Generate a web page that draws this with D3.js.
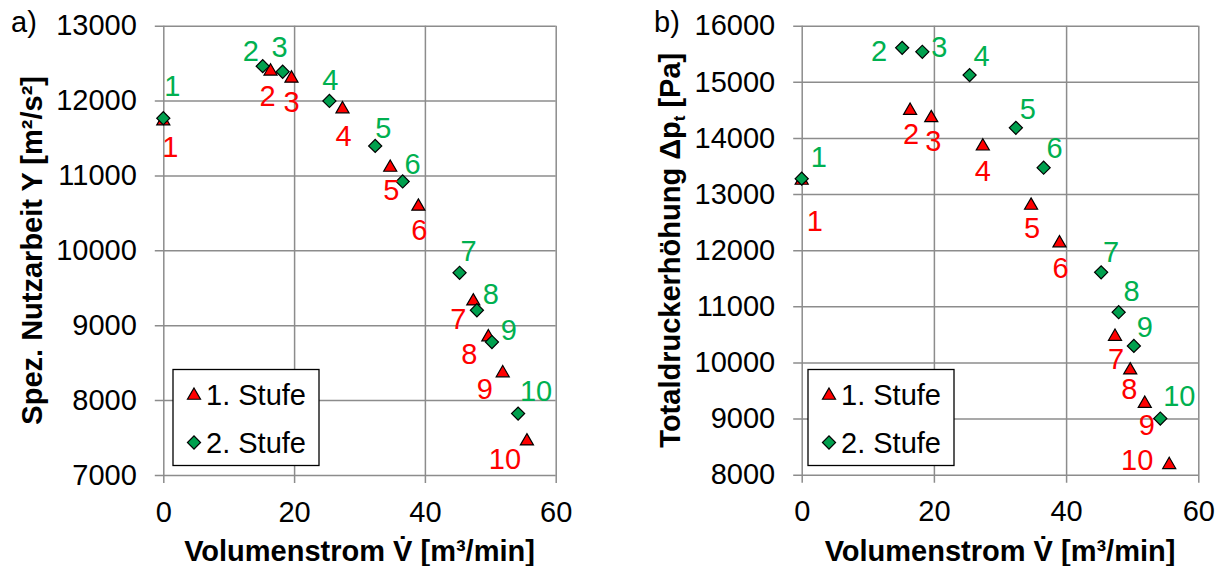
<!DOCTYPE html>
<html>
<head>
<meta charset="utf-8">
<script src="https://cdn.jsdelivr.net/npm/d3@7"></script>
<style>
  body { margin: 0; background: #fff; }
  svg { display: block; }
  svg text { font-family: "Liberation Sans", Arial, sans-serif; }
</style>
</head>
<body>
<svg id="chart" width="1222" height="566"></svg>
<script>
// Messpunkte (gleiche Volumenströme für beide Diagramme)
const pointLabels = ["1", "2", "3", "4", "5", "6", "7", "8", "9", "10"];
const volStufe1 = [0, 16.4, 19.6, 27.4, 34.7, 39.0, 47.4, 49.7, 51.9, 55.6];
const volStufe2 = [0, 15.2, 18.25, 25.4, 32.4, 36.6, 45.3, 47.95, 50.25, 54.25];

const nutzStufe1 = [11740, 12405, 12310, 11900, 11120, 10600, 9335, 8855, 8375, 7465];
const nutzStufe2 = [11765, 12460, 12385, 11995, 11395, 10920, 9700, 9200, 8775, 7820];

const druckStufe1 = [13260, 14505, 14375, 13870, 12815, 12145, 10480, 9880, 9285, 8195];
const druckStufe2 = [13275, 15605, 15535, 15120, 14180, 13470, 11605, 10895, 10295, 9000];

const xTicks = [0, 20, 40, 60];
const nutzTicks = [7000, 8000, 9000, 10000, 11000, 12000, 13000];
const druckTicks = [8000, 9000, 10000, 11000, 12000, 13000, 14000, 15000, 16000];
const seriesNames = ["1. Stufe", "2. Stufe"];

// Beschriftungs-Versatz in px (nur Layout)
const offA1 = [[7, 27], [-3, 25], [0, 24], [1, 27], [1, 23], [1, 24], [-15, 18], [-19, 17], [-18, 17], [-22, 18]];
const offA2 = [[9, -33], [-12, -16], [-3, -25], [1, -21], [8, -18], [10, -18], [9, -22], [14, -17], [17, -13], [18, -23]];
const offB1 = [[13, 41], [1, 24], [2, 24], [0, 25], [1, 23], [1, 25], [1, 23], [-1, 19], [2, 22], [-32, -4]];
const offB2 = [[17, -22], [-23, 3], [17, -5], [12, -20], [12, -19], [11, -20], [10, -21], [13, -22], [11, -19], [19, -23]];

const red = "#ff0000", redText = "#ff0000";
const green = "#00a04e", greenText = "#00b050";
const grid = "#8c8c8c";
const fs = 29;
const font = "Liberation Sans, Arial, sans-serif";

const svg = d3.select("#chart");

const tri = d3.symbol().type(d3.symbolTriangle).size(74);
const dia = d3.symbol().type(d3.symbolSquare).size(86);

function styleAxis(a) {
  a.attr("font-family", font).attr("font-size", fs);
  a.select(".domain").remove();
  a.selectAll("line").attr("stroke", grid).attr("stroke-width", 1.5);
  a.selectAll("text").attr("fill", "#000");
}

function panel(cfg) {
  const w = cfg.right - cfg.left, h = cfg.bottom - cfg.top;
  const x = d3.scaleLinear().domain([0, 60]).range([cfg.left, cfg.right]);
  const y = d3.scaleLinear().domain(cfg.yDomain).range([cfg.bottom, cfg.top]);
  const g = svg.append("g").attr("font-family", font);

  // Achsen mit Gitterlinien
  g.append("g")
    .attr("transform", `translate(${cfg.left - 8.5},0)`)
    .call(d3.axisLeft(y).tickValues(cfg.yTicks).tickSize(-(w + 8.5)).tickPadding(18).tickFormat(d3.format("d")))
    .call(styleAxis);

  g.append("g")
    .attr("transform", `translate(0,${cfg.bottom + 8})`)
    .call(d3.axisBottom(x).tickValues(xTicks).tickSize(-(h + 8)).tickPadding(18))
    .call(styleAxis);

  // Punkte
  const s1 = cfg.y1.map((v, i) => ({ x: volStufe1[i], y: v, label: pointLabels[i], off: cfg.off1[i] }));
  const s2 = cfg.y2.map((v, i) => ({ x: volStufe2[i], y: v, label: pointLabels[i], off: cfg.off2[i] }));

  g.append("g").selectAll("path").data(s1).join("path")
    .attr("d", tri)
    .attr("transform", d => `translate(${x(d.x)},${y(d.y) + 1})`)
    .attr("fill", red).attr("stroke", "#000").attr("stroke-width", 1.2);
  g.append("g").selectAll("path").data(s2).join("path")
    .attr("d", dia)
    .attr("transform", d => `translate(${x(d.x)},${y(d.y)}) rotate(45)`)
    .attr("fill", green).attr("stroke", "#000").attr("stroke-width", 1.2);

  g.append("g").selectAll("text").data(s1).join("text")
    .attr("x", d => x(d.x) + d.off[0]).attr("y", d => y(d.y) + d.off[1])
    .attr("dy", "0.36em").attr("text-anchor", "middle")
    .attr("font-size", fs).attr("fill", redText).text(d => d.label);
  g.append("g").selectAll("text").data(s2).join("text")
    .attr("x", d => x(d.x) + d.off[0]).attr("y", d => y(d.y) + d.off[1])
    .attr("dy", "0.36em").attr("text-anchor", "middle")
    .attr("font-size", fs).attr("fill", greenText).text(d => d.label);

  // Legende
  const lg = g.append("g").attr("transform", `translate(${cfg.legend[0]},369.5)`);
  lg.append("rect").attr("width", 146).attr("height", 96)
    .attr("fill", "#fff").attr("stroke", "#000").attr("stroke-width", 1.3);
  const items = lg.selectAll("g").data(seriesNames).join("g")
    .attr("transform", (d, i) => `translate(0,${25 + i * 48})`);
  items.append("path")
    .attr("d", (d, i) => i ? dia() : tri())
    .attr("transform", (d, i) => `translate(21,${i ? 0 : 1})${i ? " rotate(45)" : ""}`)
    .attr("fill", (d, i) => i ? green : red).attr("stroke", "#000").attr("stroke-width", 1.2);
  items.append("text").attr("x", 33).attr("dy", "0.36em")
    .attr("font-size", fs).text(d => d);

  // Achsentitel
  g.append("text")
    .attr("x", (cfg.left + cfg.right) / 2).attr("y", 561)
    .attr("text-anchor", "middle").attr("font-size", fs).attr("font-weight", "bold")
    .text("Volumenstrom V\u0307 [m³/min]");

  const yt = g.append("text")
    .attr("transform", `translate(${cfg.yTitleX},${(cfg.top + cfg.bottom) / 2}) rotate(-90)`)
    .attr("text-anchor", "middle").attr("font-size", fs).attr("font-weight", "bold");
  cfg.yTitle(yt);

  g.append("text").attr("x", cfg.panelX).attr("y", 32)
    .attr("font-size", fs).text(cfg.panel);
}

panel({
  left: 163.3, right: 555.7, top: 25.7, bottom: 475,
  yDomain: [7000, 13000], yTicks: nutzTicks,
  y1: nutzStufe1, y2: nutzStufe2, off1: offA1, off2: offA2,
  legend: [173],
  yTitleX: 42, panelX: 11, panel: "a)",
  yTitle: t => t.text("Spez. Nutzarbeit Y [m²/s²]")
});

panel({
  left: 801.7, right: 1198.3, top: 25.7, bottom: 474.7,
  yDomain: [8000, 16000], yTicks: druckTicks,
  y1: druckStufe1, y2: druckStufe2, off1: offB1, off2: offB2,
  legend: [808],
  yTitleX: 680, panelX: 654, panel: "b)",
  yTitle: t => {
    t.append("tspan").text("Totaldruckerhöhung Δp");
    t.append("tspan").attr("font-size", 17).attr("dy", 5).text("t");
    t.append("tspan").attr("dy", -5).text(" [Pa]");
  }
});
</script>
</body>
</html>
